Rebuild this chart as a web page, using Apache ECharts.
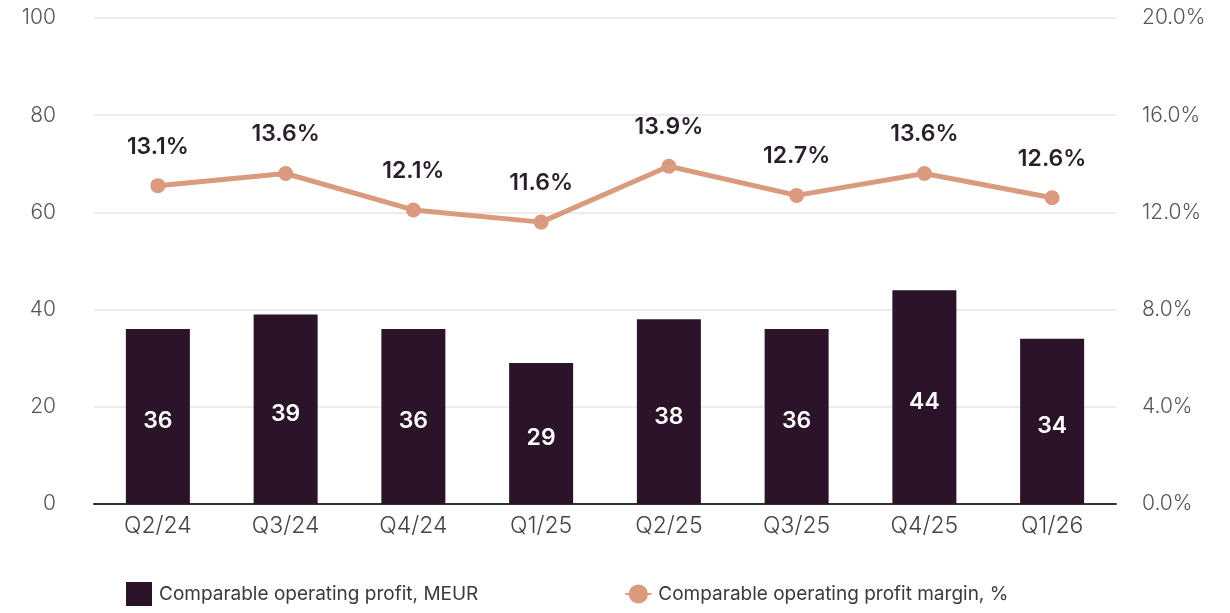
<!DOCTYPE html>
<html>
<head>
<meta charset="utf-8">
<script src="https://cdn.jsdelivr.net/npm/echarts@6/dist/echarts.min.js"></script>
<style>
html,body{margin:0;padding:0;background:#fff;}
#main{width:1230px;height:613px;}
</style>
</head>
<body>
<div id="main"></div>
<script>
var quarters = ['Q2/24', 'Q3/24', 'Q4/24', 'Q1/25', 'Q2/25', 'Q3/25', 'Q4/25', 'Q1/26'];
var profit = [36, 39, 36, 29, 38, 36, 44, 34];
var margin = [13.1, 13.6, 12.1, 11.6, 13.9, 12.7, 13.6, 12.6];

var barColor = '#2b1329';
var lineColor = '#d99a7e';
var font = 'Inter, "Noto Sans", sans-serif';

var myChart = echarts.init(document.getElementById('main'));
var option = {
	animation: false,
	textStyle: { fontFamily: font },
	legend: {
		bottom: 2,
		left: 121,
		itemGap: 146,
		itemWidth: 26,
		itemHeight: 24,
		textStyle: { fontSize: 19, color: '#3a3a3a', fontFamily: font, padding: [0, 0, 0, 2] },
		data: [
			{ name: 'Comparable operating profit, MEUR', icon: 'rect' },
			{ name: 'Comparable operating profit margin, %' }
		]
	},
	grid: { left: 94, right: 114, top: 18, bottom: 109 },
	xAxis: {
		type: 'category',
		data: quarters,
		axisTick: { show: false },
		axisLine: { lineStyle: { color: '#333', width: 2 } },
		axisLabel: { fontSize: 23, fontWeight: 300, color: '#444', margin: 11 }
	},
	yAxis: [{
		type: 'value',
		min: 0, max: 100, interval: 20,
		axisLabel: { fontSize: 21, fontWeight: 300, color: '#555', margin: 38 },
		splitLine: { lineStyle: { color: '#e6e6e6', width: 1.5 } }
	}, {
		type: 'value',
		min: 0, max: 20, interval: 4,
		axisLabel: {
			fontSize: 21, fontWeight: 300, color: '#555', margin: 26,
			formatter: function (v) { return v.toFixed(1) + '%'; }
		},
		splitLine: { show: false }
	}],
	series: [{
		name: 'Comparable operating profit, MEUR',
		type: 'bar',
		data: profit,
		barWidth: 64,
		itemStyle: { color: barColor },
		label: {
			show: true, position: 'inside', offset: [0, 5],
			color: '#fff', fontSize: 23, fontWeight: 600
		}
	}, {
		name: 'Comparable operating profit margin, %',
		type: 'line',
		yAxisIndex: 1,
		data: margin,
		symbol: 'circle',
		symbolSize: 15,
		lineStyle: { color: lineColor, width: 5 },
		itemStyle: { color: lineColor },
		label: {
			show: true, position: 'top', distance: 20,
			color: '#2a1e2a', fontSize: 23, fontWeight: 600,
			formatter: function (p) { return p.value.toFixed(1) + '%'; }
		}
	}]
};
myChart.setOption(option);
</script>
</body>
</html>
